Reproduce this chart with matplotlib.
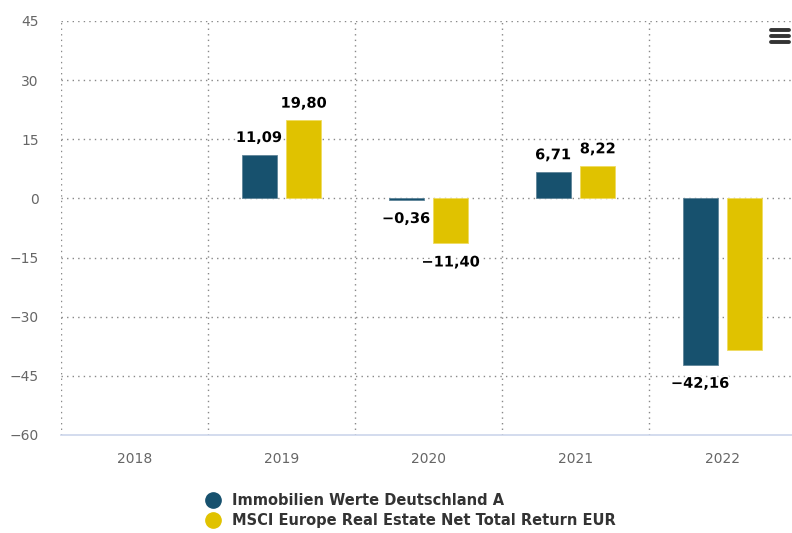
import matplotlib.pyplot as plt
import matplotlib.patheffects as pe
from matplotlib.lines import Line2D
import numpy as np

# data
years = ['2018', '2019', '2020', '2021', '2022']
fund = [np.nan, 11.09, -0.36, 6.71, -42.16]
index = [np.nan, 19.80, -11.40, 8.22, -38.4]
fund_labels = ['', '11,09', '\u22120,36', '6,71', '\u221242,16']
index_labels = ['', '19,80', '\u221211,40', '8,22', '']
series_names = ['Immobilien Werte Deutschland A',
                'MSCI Europe Real Estate Net Total Return EUR']
yticks = [-60, -45, -30, -15, 0, 15, 30, 45]

blue = '#17516e'
yellow = '#e0c200'

fig = plt.figure(figsize=(7.92, 5.33), dpi=100)
ax = fig.add_axes([61/792, 98/533, 735/792, 414/533])

x = np.arange(len(years))
off, w = 0.152, 0.238
b1 = ax.bar(x - off, fund, w, color=blue, edgecolor='#5f8599', linewidth=0.6, zorder=3)
b2 = ax.bar(x + off, index, w, color=yellow, edgecolor='#f0dc60', linewidth=0.6, zorder=3)

outline = [pe.withStroke(linewidth=2.5, foreground='white')]
for bars, vals, labs in [(b1, fund, fund_labels), (b2, index, index_labels)]:
    for rect, v, lab in zip(bars, vals, labs):
        if not lab:
            continue
        cx = rect.get_x() + rect.get_width() / 2
        dy = 7 if v >= 0 else -8
        ax.annotate(lab, (cx, v), xytext=(0, dy), textcoords='offset points',
                    ha='center', va='bottom' if v >= 0 else 'top',
                    fontsize=10.5, fontweight='bold', color='black',
                    path_effects=outline, zorder=5)

ax.set_xlim(-0.5, 4.5)
ax.set_ylim(-60, 45)
ax.set_yticks(yticks)
ax.set_yticklabels([str(t).replace('-', '\u2212') for t in yticks])
ax.set_xticks(x)
ax.set_xticklabels(years)
ax.tick_params(axis='y', length=0, pad=16, labelsize=10, labelcolor='#666666')
ax.tick_params(axis='x', length=0, pad=12, labelsize=10, labelcolor='#666666')

# dotted grid
for t in yticks[1:]:
    ax.axhline(t, color='#888888', linestyle=(0, (1, 3)), linewidth=1, zorder=1)
for b in np.arange(-0.5, 4.5, 1):
    ax.axvline(b, color='#888888', linestyle=(0, (1, 3)), linewidth=1, zorder=1)

for s in ['top', 'right', 'left']:
    ax.spines[s].set_visible(False)
ax.spines['bottom'].set_color('#ccd6eb')
ax.spines['bottom'].set_linewidth(1.2)

# legend
handles = [Line2D([], [], marker='o', linestyle='', markersize=11, color=c)
           for c in (blue, yellow)]
leg = fig.legend(handles, series_names, loc='upper left',
                 bbox_to_anchor=(191/792, 1 - 480/533), frameon=False,
                 handletextpad=0.7, labelspacing=0.35, handlelength=1.2,
                 prop={'weight': 'bold', 'size': 10.5})
for t in leg.get_texts():
    t.set_color('#333333')

# menu icon
for yy in (30, 36, 42):
    fig.add_artist(Line2D([771/792, 789/792], [1 - yy/533] * 2, color='#333333',
                          linewidth=2.8, solid_capstyle='round'))

plt.savefig('out.png', dpi=100)
